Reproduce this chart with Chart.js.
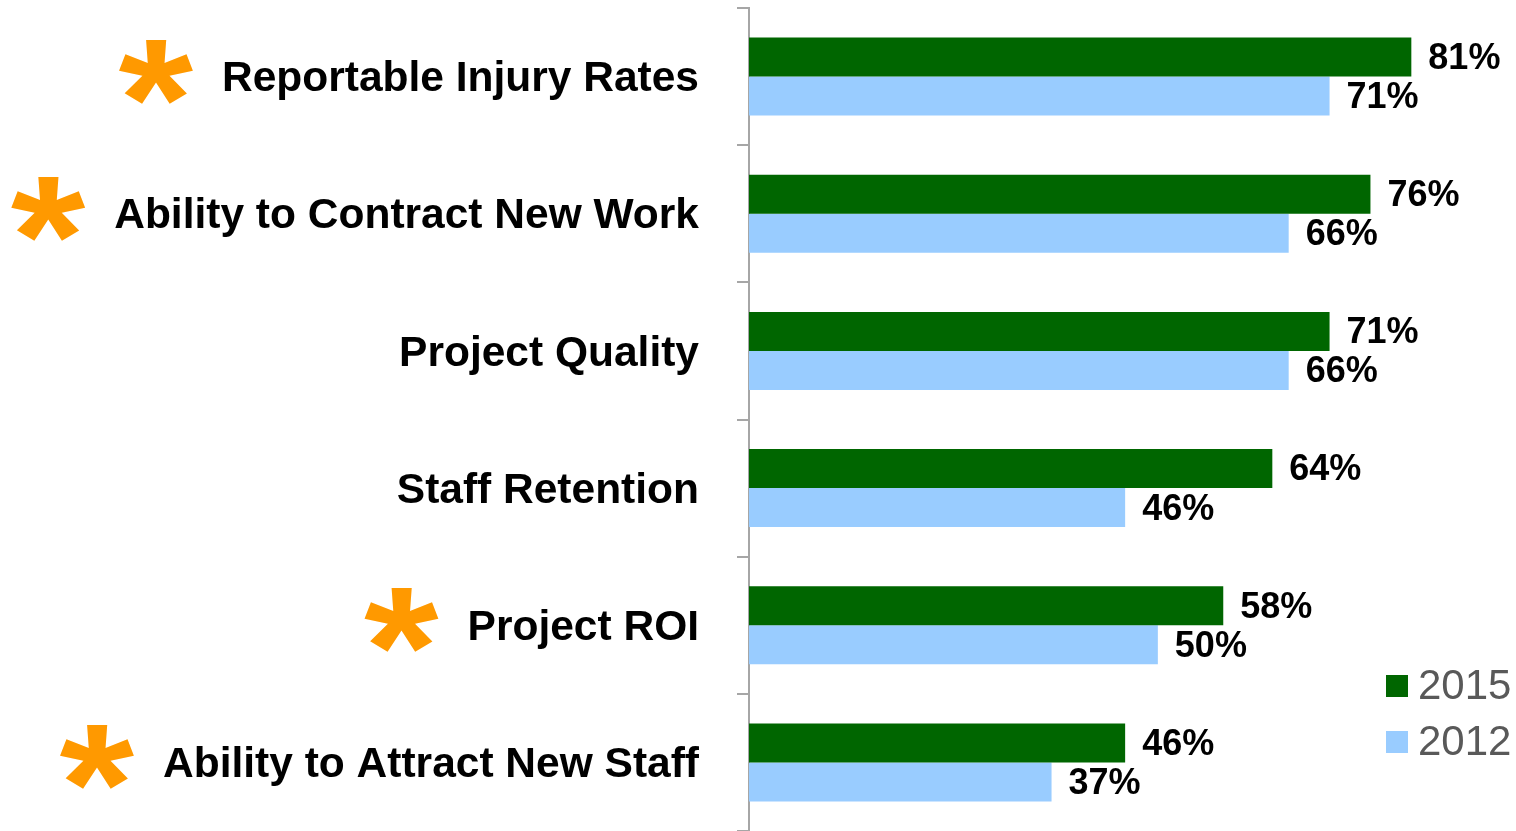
<!DOCTYPE html>
<html>
<head>
<meta charset="utf-8">
<script src="https://cdn.jsdelivr.net/npm/chart.js@4"></script>
<style>
	body { margin: 0; background: #fff; }
	#charts { position: relative; width: 1516px; height: 831px; }
</style>
</head>
<body>
<div id="charts"><canvas id="chart"></canvas></div>
<script>
/* survey results - horizontal bars, 2015 vs 2012 */

const labels = [
	'Reportable Injury Rates',
	'Ability to Contract New Work',
	'Project Quality',
	'Staff Retention',
	'Project ROI',
	'Ability to Attract New Staff',
];
const starred = [true, true, false, false, true, true];

const values2015 = [81, 76, 71, 64, 58, 46];
const values2012 = [71, 66, 66, 46, 50, 37];

const seriesNames = ['2015', '2012'];
const seriesColors = ['#006600', '#99CCFF'];

const FONT = '"Liberation Sans", Arial, sans-serif';
const LABEL_SIZE = 42.5;

// value labels at the end of each bar
const barLabels = {
	id: 'barLabels',
	afterDatasetsDraw(chart) {
		const ctx = chart.ctx;
		ctx.save();
		ctx.font = 'bold 36px ' + FONT;
		ctx.fillStyle = '#000';
		ctx.textBaseline = 'middle';
		ctx.textAlign = 'left';
		chart.data.datasets.forEach(function(ds, i) {
			chart.getDatasetMeta(i).data.forEach(function(bar, j) {
				ctx.fillText(ds.data[j] + '%', bar.x + 17, bar.y + 2);
			});
		});
		ctx.restore();
	}
};

// orange asterisks in front of some category names + legend
const extras = {
	id: 'extras',
	afterDraw(chart) {
		const ctx = chart.ctx;
		const yScale = chart.scales.y;
		ctx.save();

		// asterisks
		const textRight = chart.chartArea.left - 12 - 38;
		ctx.font = 'bold 100px ' + FONT;
		let m = ctx.measureText('*');
		const size = 100 * 65 / (m.actualBoundingBoxAscent + m.actualBoundingBoxDescent);
		labels.forEach(function(lab, i) {
			if (!starred[i]) return;
			ctx.font = 'bold ' + LABEL_SIZE + 'px ' + FONT;
			const textLeft = textRight - ctx.measureText(lab).width;
			const cy = yScale.getPixelForValue(i) - 5;
			const cx = textLeft - 66;
			ctx.font = 'bold ' + size + 'px ' + FONT;
			m = ctx.measureText('*');
			ctx.fillStyle = '#FF9900';
			ctx.textBaseline = 'alphabetic';
			ctx.textAlign = 'left';
			const w = m.actualBoundingBoxRight + m.actualBoundingBoxLeft;
			const h = m.actualBoundingBoxAscent + m.actualBoundingBoxDescent;
			ctx.save();
			ctx.translate(cx, cy);
			ctx.scale(1.12, 1);
			ctx.fillText('*', -w / 2 + m.actualBoundingBoxLeft, -h / 2 + m.actualBoundingBoxAscent);
			ctx.restore();
		});

		// legend
		ctx.font = '42px ' + FONT;
		ctx.textBaseline = 'middle';
		ctx.textAlign = 'left';
		seriesNames.forEach(function(name, i) {
			const y = 686 + i * 56;
			ctx.fillStyle = seriesColors[i];
			ctx.fillRect(1386, y - 11, 22, 22);
			ctx.fillStyle = '#595959';
			ctx.fillText(name, 1418, y + 1);
		});
		ctx.restore();
	}
};

function drawChart() {
	const data = {
		labels: labels,
		datasets: [{
			label: seriesNames[0],
			data: values2015,
			backgroundColor: seriesColors[0],
			categoryPercentage: 0.569,
			barPercentage: 1.0,
		}, {
			label: seriesNames[1],
			data: values2012,
			backgroundColor: seriesColors[1],
			categoryPercentage: 0.569,
			barPercentage: 1.0,
		}]
	};

	const config = {
		type: 'bar',
		data: data,
		plugins: [barLabels, extras],
		options: {
			indexAxis: 'y',
			responsive: true,
			maintainAspectRatio: false,
			animation: false,
			layout: { padding: { top: 8, bottom: 0, left: 0, right: 0 } },
			plugins: {
				legend: { display: false },
				tooltip: { enabled: false }
			},
			scales: {
				x: {
					display: false,
					min: 0,
					max: 93.8,
				},
				y: {
					afterFit: function(scale) {
						scale.width = 749;
						scale.paddingTop = 0;
						scale.paddingBottom = 0;
					},
					border: { display: true, color: '#A6A6A6', width: 2 },
					grid: {
						offset: true,
						drawOnChartArea: false,
						drawTicks: true,
						tickLength: 12,
						color: '#A6A6A6',
						lineWidth: 2,
					},
					ticks: {
						padding: 38,
						labelOffset: 3,
						color: '#000',
						font: { size: LABEL_SIZE, weight: 'bold', family: FONT }
					}
				}
			}
		}
	};

	const chart = new Chart(document.getElementById('chart'), config);
}

window.onload = function() {
	drawChart();
};
</script>
</body>
</html>
